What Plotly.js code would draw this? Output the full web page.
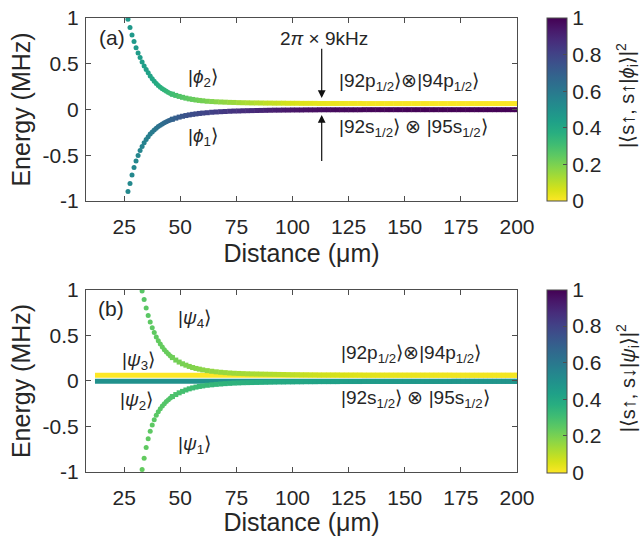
<!DOCTYPE html>
<html>
<head>
<meta charset="utf-8">
<script src="https://cdn.plot.ly/plotly-3.0.1.min.js"></script>
<style>html,body{margin:0;padding:0;background:#fff;}#chart{width:642px;height:536px;}</style>
</head>
<body>
<div id="chart"></div>
<script>
// ---------- data ----------
// distance grid (µm) shared by all curves
const distance = [26.7, 27.6, 28.5, 29.4, 30.3, 31.2, 32.1, 33.0, 33.9, 34.8, 35.7, 36.6, 37.5, 38.4, 39.3, 40.2, 41.1, 42.0, 42.9, 43.8, 44.7, 45.6, 46.5,
  48, 49.5, 51, 52.5, 54, 55.5, 57, 58.5, 60,
  62, 64, 66, 68, 70, 72, 74, 76, 78, 80, 82, 84, 86, 88, 90, 92, 94, 96, 98, 100,
  102, 104, 106, 108, 110, 112, 114, 116, 118, 120, 122, 124, 126, 128, 130,
  132, 134, 136, 138, 140, 142, 144, 146, 148, 150, 152, 154, 156, 158, 160, 162, 164, 166, 168, 170,
  172, 174, 176, 178, 180, 182, 184, 186, 188, 190, 192, 194, 196, 198, 200];

// panel (a): energies (MHz)
const phi2Energy = [0.985, 0.896, 0.815, 0.742, 0.676, 0.617, 0.567, 0.520, 0.476, 0.438, 0.401, 0.367, 0.337, 0.310, 0.285, 0.263, 0.244, 0.227, 0.212, 0.199, 0.187, 0.176, 0.167,
  0.154, 0.143, 0.133, 0.124, 0.116, 0.110, 0.104, 0.099, 0.095,
  0.090, 0.087, 0.084, 0.082, 0.080, 0.078, 0.077, 0.075, 0.074, 0.073,
  0.072, 0.072, 0.071, 0.070, 0.070, 0.069, 0.069, 0.069, 0.068, 0.068,
  0.068, 0.067, 0.067, 0.067, 0.067,
  0.066, 0.066, 0.066, 0.066, 0.066, 0.066, 0.066, 0.066, 0.066, 0.066,
  0.065, 0.065, 0.065, 0.065, 0.065, 0.065, 0.065, 0.065, 0.065, 0.065,
  0.065, 0.065, 0.065, 0.065, 0.065, 0.065, 0.065, 0.065, 0.065, 0.065,
  0.065, 0.065, 0.065, 0.065, 0.065, 0.065, 0.065, 0.065, 0.065, 0.065,
  0.065, 0.065, 0.065, 0.065, 0.065];
const phi1Energy = [-0.895, -0.810, -0.715, -0.633, -0.563, -0.502, -0.449, -0.403, -0.363, -0.328, -0.297, -0.269, -0.245, -0.223, -0.204, -0.187, -0.171, -0.158, -0.145, -0.134, -0.124, -0.114, -0.106,
  -0.094, -0.083, -0.074, -0.066, -0.059, -0.053, -0.048, -0.043, -0.039,
  -0.035, -0.030, -0.027, -0.024, -0.022, -0.019, -0.017, -0.016, -0.014, -0.013,
  -0.012, -0.011, -0.010, -0.009, -0.008, -0.007, -0.007, -0.006, -0.006, -0.005,
  -0.005, -0.005, -0.004, -0.004, -0.004,
  -0.003, -0.003, -0.003, -0.003, -0.003, -0.003, -0.003, -0.003, -0.003, -0.003,
  -0.002, -0.002, -0.002, -0.002, -0.002, -0.002, -0.002, -0.002, -0.002, -0.002,
  -0.002, -0.002, -0.002, -0.002, -0.002, -0.002, -0.002, -0.002, -0.002, -0.002,
  -0.002, -0.002, -0.002, -0.002, -0.002, -0.002, -0.002, -0.002, -0.002, -0.002,
  -0.002, -0.002, -0.002, -0.002, -0.002];
// panel (a): overlap |<s↑,s↑|φi>|²
const phi2Overlap = [0.47, 0.47, 0.465, 0.46, 0.46, 0.455, 0.45, 0.445, 0.44, 0.435, 0.43, 0.42, 0.41, 0.40, 0.39, 0.38, 0.37, 0.36, 0.35, 0.34, 0.33, 0.32, 0.31,
  0.30, 0.28, 0.265, 0.255, 0.245, 0.235, 0.225, 0.215, 0.21,
  0.20, 0.19, 0.18, 0.17, 0.165, 0.155, 0.15, 0.14, 0.13, 0.125,
  0.12, 0.11, 0.105, 0.095, 0.09, 0.085, 0.08, 0.07, 0.065, 0.06,
  0.055, 0.05, 0.047, 0.044, 0.04,
  0.037, 0.034, 0.031, 0.029, 0.027, 0.025, 0.023, 0.021, 0.02, 0.018,
  0.017, 0.016, 0.015, 0.014, 0.013, 0.012, 0.012, 0.011, 0.011, 0.010,
  0.009, 0.009, 0.009, 0.008, 0.008, 0.008, 0.007, 0.007, 0.007, 0.007,
  0.006, 0.006, 0.006, 0.006, 0.006, 0.006, 0.006, 0.006,
  0.005, 0.005, 0.005, 0.005, 0.005, 0.005, 0.005];
const phi1Overlap = [0.53, 0.53, 0.535, 0.54, 0.54, 0.545, 0.55, 0.555, 0.56, 0.565, 0.57, 0.58, 0.59, 0.60, 0.61, 0.62, 0.63, 0.64, 0.65, 0.66, 0.67, 0.68, 0.69,
  0.70, 0.72, 0.735, 0.745, 0.755, 0.765, 0.775, 0.785, 0.79,
  0.80, 0.81, 0.82, 0.83, 0.835, 0.845, 0.85, 0.86, 0.87, 0.875,
  0.88, 0.89, 0.895, 0.905, 0.91, 0.915, 0.92, 0.93, 0.935, 0.94,
  0.945, 0.95, 0.953, 0.956, 0.96,
  0.963, 0.966, 0.969, 0.971, 0.973, 0.975, 0.977, 0.979, 0.98, 0.982,
  0.983, 0.984, 0.985, 0.986, 0.987, 0.988, 0.988, 0.989, 0.989, 0.99,
  0.991, 0.991, 0.991, 0.992, 0.992, 0.992, 0.993, 0.993, 0.993, 0.993,
  0.994, 0.994, 0.994, 0.994, 0.994, 0.994, 0.994, 0.994,
  0.995, 0.995, 0.995, 0.995, 0.995, 0.995, 0.995];

// panel (b): energies (MHz)
const psi4Energy = [null, null, null, null, null, null, null, 0.99, 0.896, 0.801, 0.719, 0.648, 0.586, 0.532, 0.484, 0.443, 0.406, 0.373, 0.344, 0.319, 0.296, 0.275, 0.257,
  0.230, 0.208, 0.189, 0.174, 0.160, 0.148, 0.138, 0.130, 0.122,
  0.114, 0.107, 0.101, 0.096, 0.092, 0.088, 0.085, 0.083, 0.081, 0.079,
  0.078, 0.077, 0.076, 0.075, 0.074, 0.073, 0.072, 0.071, 0.070, 0.069,
  0.069, 0.068, 0.068, 0.067, 0.067,
  0.066, 0.066, 0.066, 0.066, 0.066, 0.065, 0.065, 0.065, 0.065, 0.065,
  0.064, 0.064, 0.064, 0.064, 0.064, 0.064, 0.064, 0.064, 0.064, 0.064,
  0.064, 0.064, 0.064, 0.064, 0.064, 0.064, 0.064, 0.064, 0.064, 0.064,
  0.063, 0.063, 0.063, 0.063, 0.063, 0.063, 0.063, 0.063, 0.063, 0.063,
  0.063, 0.063, 0.063, 0.063, 0.063];
const psi1Energy = [null, null, null, null, null, null, null, -0.972, -0.848, -0.731, -0.635, -0.553, -0.484, -0.425, -0.377, -0.337, -0.304, -0.276, -0.250, -0.226, -0.205, -0.186, -0.171,
  -0.149, -0.130, -0.114, -0.099, -0.086, -0.076, -0.067, -0.060, -0.054,
  -0.047, -0.042, -0.037, -0.033, -0.029, -0.026, -0.023, -0.021, -0.019, -0.018,
  -0.017, -0.016, -0.015, -0.014, -0.013, -0.012, -0.011, -0.011, -0.010, -0.010,
  -0.009, -0.009, -0.008, -0.008, -0.008,
  -0.007, -0.007, -0.007, -0.007, -0.007, -0.006, -0.006, -0.006, -0.006, -0.006,
  -0.005, -0.005, -0.005, -0.005, -0.005, -0.005, -0.005, -0.005, -0.005, -0.005,
  -0.005, -0.005, -0.005, -0.005, -0.005, -0.005, -0.005, -0.005, -0.005, -0.005,
  -0.004, -0.004, -0.004, -0.004, -0.004, -0.004, -0.004, -0.004, -0.004, -0.004,
  -0.004, -0.004, -0.004, -0.004, -0.004];
// panel (b): overlap |<s↑,s↓|ψi>|²
const psi4Overlap = [null, null, null, null, null, null, null, 0.26, 0.26, 0.255, 0.255, 0.25, 0.25, 0.245, 0.245, 0.24, 0.24, 0.235, 0.235, 0.23, 0.23, 0.225, 0.22,
  0.215, 0.21, 0.205, 0.2, 0.195, 0.19, 0.185, 0.18, 0.175,
  0.17, 0.165, 0.16, 0.155, 0.15, 0.147, 0.144, 0.141, 0.138, 0.135,
  0.132, 0.129, 0.126, 0.122, 0.118, 0.114, 0.11, 0.106, 0.102, 0.098,
  0.094, 0.09, 0.086, 0.082, 0.078,
  0.075, 0.072, 0.069, 0.066, 0.063, 0.06, 0.057, 0.054, 0.052, 0.05,
  0.048, 0.046, 0.044, 0.042, 0.04, 0.038, 0.037, 0.036, 0.035, 0.034,
  0.033, 0.032, 0.031, 0.03, 0.029, 0.028, 0.027, 0.026, 0.025, 0.024,
  0.023, 0.022, 0.021, 0.02, 0.02, 0.019, 0.019, 0.018, 0.018, 0.017,
  0.017, 0.016, 0.016, 0.015, 0.015];
const psi1Overlap = [null, null, null, null, null, null, null, 0.24, 0.24, 0.245, 0.245, 0.25, 0.25, 0.255, 0.255, 0.26, 0.26, 0.265, 0.265, 0.27, 0.27, 0.275, 0.28,
  0.285, 0.29, 0.295, 0.3, 0.305, 0.31, 0.315, 0.32, 0.325,
  0.33, 0.335, 0.34, 0.345, 0.35, 0.353, 0.356, 0.359, 0.362, 0.365,
  0.368, 0.371, 0.374, 0.378, 0.382, 0.386, 0.39, 0.394, 0.398, 0.402,
  0.406, 0.41, 0.414, 0.418, 0.422,
  0.425, 0.428, 0.431, 0.434, 0.437, 0.44, 0.443, 0.446, 0.448, 0.45,
  0.452, 0.454, 0.456, 0.458, 0.46, 0.462, 0.463, 0.464, 0.465, 0.466,
  0.467, 0.468, 0.469, 0.47, 0.471, 0.472, 0.473, 0.474, 0.475, 0.476,
  0.477, 0.478, 0.479, 0.48, 0.48, 0.481, 0.481, 0.482, 0.482, 0.483,
  0.483, 0.484, 0.484, 0.485, 0.485];
// panel (b): flat states ψ3 (overlap 0) and ψ2 (overlap 0.5)
const flatDistance = [12, 200];
const psi3Energy = [0.062, 0.062];
const psi2Energy = [-0.003, -0.003];

// tick labels
const distanceTicks = [25, 50, 75, 100, 125, 150, 175, 200];
const distanceTickText = ['25', '50', '75', '100', '125', '150', '175', '200'];
const energyTicks = [-1, -0.5, 0, 0.5, 1];
const energyTickText = ['-1', '-0.5', '0', '0.5', '1'];
const overlapTicks = [0, 0.2, 0.4, 0.6, 0.8, 1];
const overlapTickText = ['0', '0.2', '0.4', '0.6', '0.8', '1'];

// ---------- drawing ----------
const FONT = 'Arial, "Liberation Sans", Helvetica, sans-serif';
const INK = '#262626';
const AXC = '#4d4d4d';
const NEAR = 23; // first points drawn as separate round dots

function curve(y, c, xa, ya, cax) {
  const common = {type: 'scatter', mode: 'markers', xaxis: xa, yaxis: ya, hoverinfo: 'skip', showlegend: false};
  return [
    Object.assign({}, common, {x: distance.slice(0, NEAR), y: y.slice(0, NEAR),
      marker: {symbol: 'circle', size: 5, color: c.slice(0, NEAR), coloraxis: cax, line: {width: 0}}}),
    Object.assign({}, common, {x: distance.slice(NEAR - 1), y: y.slice(NEAR - 1),
      marker: {symbol: 'square', size: 5, color: c.slice(NEAR - 1), coloraxis: cax, line: {width: 0}}})
  ];
}

const data = [].concat(
  curve(phi2Energy, phi2Overlap, 'x', 'y', 'coloraxis'),
  curve(phi1Energy, phi1Overlap, 'x', 'y', 'coloraxis'),
  [{type: 'scatter', mode: 'lines', x: flatDistance, y: psi3Energy, xaxis: 'x2', yaxis: 'y2',
    line: {color: '#fde725', width: 5}, hoverinfo: 'skip', showlegend: false},
   {type: 'scatter', mode: 'lines', x: flatDistance, y: psi2Energy, xaxis: 'x2', yaxis: 'y2',
    line: {color: '#21918c', width: 5}, hoverinfo: 'skip', showlegend: false}],
  curve(psi4Energy, psi4Overlap, 'x2', 'y2', 'coloraxis2'),
  curve(psi1Energy, psi1Overlap, 'x2', 'y2', 'coloraxis2')
);

function xax(anchor) {
  return {domain: [0, 1], anchor: anchor, range: [8, 200], tickvals: distanceTicks, ticktext: distanceTickText,
    ticks: 'inside', ticklen: 5, tickwidth: 1, tickcolor: AXC, showline: true, linecolor: AXC, linewidth: 1,
    mirror: 'ticks', showgrid: false, zeroline: false, ticklabelstandoff: 7,
    tickfont: {size: 21, color: INK, family: FONT},
    title: {text: 'Distance (μm)', font: {size: 25, color: INK, family: FONT}, standoff: 7}};
}
function yax(anchor, dom) {
  return {domain: dom, anchor: anchor, range: [-1, 1], tickvals: energyTicks, ticktext: energyTickText,
    ticks: 'inside', ticklen: 5, tickwidth: 1, tickcolor: AXC, showline: true, linecolor: AXC, linewidth: 1,
    mirror: 'ticks', showgrid: false, zeroline: false, ticklabelstandoff: 2,
    tickfont: {size: 21, color: INK, family: FONT},
    title: {text: 'Energy (MHz)', font: {size: 25, color: INK, family: FONT}, standoff: 4}};
}
function cbar(yc) {
  return {colorscale: 'Viridis', reversescale: true, cmin: 0, cmax: 1,
    colorbar: {x: 1.0696, xanchor: 'left', xpad: 0, y: yc, yanchor: 'middle', ypad: 0,
      len: 183, lenmode: 'pixels', thickness: 20, thicknessmode: 'pixels',
      outlinewidth: 1, outlinecolor: AXC, tickvals: overlapTicks, ticktext: overlapTickText,
      ticks: 'inside', ticklen: 4, tickcolor: AXC, tickfont: {size: 21, color: INK, family: FONT}}};
}

const ann = [];
function txt(x, y, text, xr, yr, size, xanchor, angle) {
  ann.push({x: x, y: y, xref: xr, yref: yr, text: text, showarrow: false, xanchor: xanchor || 'center', yanchor: 'middle',
    textangle: angle || 0, font: {size: size || 19, color: INK, family: FONT}});
}
function arrow(x, y0, y1, xr, yr) {
  ann.push({x: x, y: y1, ax: x, ay: y0, xref: xr, yref: yr, axref: xr, ayref: yr, text: '', showarrow: true,
    arrowhead: 2, arrowsize: 1.3, arrowwidth: 1.2, arrowcolor: '#111', standoff: 0, startstandoff: 0});
}
// panel (a)
txt(13, 0.79, '(a)', 'x', 'y', 21, 'left');
txt(60, 0.34, '|<i>ϕ</i><sub>2</sub>⟩', 'x', 'y');
txt(60, -0.30, '|<i>ϕ</i><sub>1</sub>⟩', 'x', 'y');
txt(114, 0.78, '2<i>π</i> × 9kHz', 'x', 'y');
arrow(113, 0.68, 0.125, 'x', 'y');
arrow(113, -0.58, -0.06, 'x', 'y');
txt(120, 0.30, '|92p<sub>1/2</sub>⟩⊗|94p<sub>1/2</sub>⟩', 'x', 'y', 19, 'left');
txt(120, -0.20, '|92s<sub>1/2</sub>⟩ ⊗ |95s<sub>1/2</sub>⟩', 'x', 'y', 19, 'left');
// panel (b)
txt(12.5, 0.80, '(b)', 'x2', 'y2', 21, 'left');
txt(56.5, 0.68, '|<i>ψ</i><sub>4</sub>⟩', 'x2', 'y2');
txt(31.5, 0.22, '|<i>ψ</i><sub>3</sub>⟩', 'x2', 'y2');
txt(30.7, -0.22, '|<i>ψ</i><sub>2</sub>⟩', 'x2', 'y2');
txt(56.5, -0.70, '|<i>ψ</i><sub>1</sub>⟩', 'x2', 'y2');
txt(120.5, 0.30, '|92p<sub>1/2</sub>⟩⊗|94p<sub>1/2</sub>⟩', 'x2', 'y2', 19, 'left');
txt(120.5, -0.20, '|92s<sub>1/2</sub>⟩ ⊗ |95s<sub>1/2</sub>⟩', 'x2', 'y2', 19, 'left');
// colour-bar titles (rotated, placed right of the bars)
txt(1.256, 0.829, '|⟨s↑, s↑|<i>ϕ</i><sub>i</sub>⟩|<sup>2</sup>', 'paper', 'paper', 20, 'center', -90);
txt(1.256, 0.207, '|⟨s↑, s↓|<i>ψ</i><sub>i</sub>⟩|<sup>2</sup>', 'paper', 'paper', 20, 'center', -90);

const layout = {
  width: 642, height: 536,
  margin: {l: 86, r: 125, t: 18, b: 64},
  paper_bgcolor: '#fff', plot_bgcolor: '#fff',
  font: {family: FONT, color: INK},
  showlegend: false,
  xaxis: xax('y'), yaxis: yax('x', [0.5969, 1]),
  xaxis2: xax('y2'), yaxis2: yax('x2', [0, 0.4009]),
  coloraxis: cbar(0.7985),
  coloraxis2: cbar(0.2004),
  annotations: ann
};

Plotly.newPlot('chart', data, layout, {displayModeBar: false, staticPlot: true});
</script>
</body>
</html>
